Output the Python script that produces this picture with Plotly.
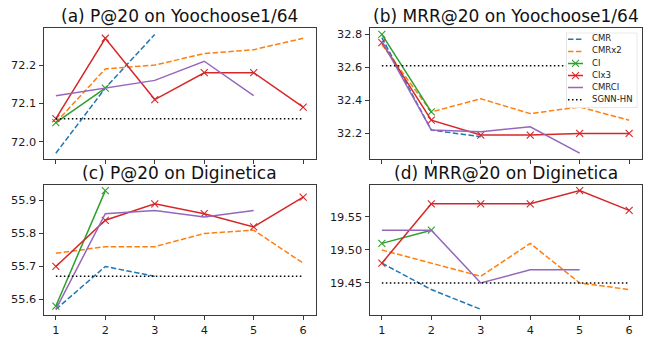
import plotly.graph_objects as go

# ---------------- data ----------------
steps = [1, 2, 3, 4, 5, 6]
names = ["CMR", "CMRx2", "CI", "CIx3", "CMRCI", "SGNN-HN"]

a_cmr = [71.97, 72.14, 72.28]
a_cmrx2 = [72.05, 72.19, 72.20, 72.23, 72.24, 72.27]
a_ci = [72.05, 72.14]
a_cix3 = [72.06, 72.27, 72.11, 72.18, 72.18, 72.09]
a_cmrci = [72.12, 72.14, 72.16, 72.21, 72.12]
a_sgnn = [72.06, 72.06, 72.06, 72.06, 72.06, 72.06]

b_cmr = [32.78, 32.22, 32.18]
b_cmrx2 = [32.74, 32.33, 32.41, 32.32, 32.36, 32.28]
b_ci = [32.80, 32.33]
b_cix3 = [32.75, 32.28, 32.19, 32.19, 32.20, 32.20]
b_cmrci = [32.76, 32.22, 32.21, 32.24, 32.08]
b_sgnn = [32.61, 32.61, 32.61, 32.61, 32.61, 32.61]

c_cmr = [55.57, 55.70, 55.67]
c_cmrx2 = [55.74, 55.76, 55.76, 55.80, 55.81, 55.71]
c_ci = [55.58, 55.93]
c_cix3 = [55.70, 55.84, 55.89, 55.86, 55.82, 55.91]
c_cmrci = [55.57, 55.86, 55.87, 55.85, 55.87]
c_sgnn = [55.67, 55.67, 55.67, 55.67, 55.67, 55.67]

d_cmr = [19.48, 19.44, 19.41]
d_cmrx2 = [19.50, 19.48, 19.46, 19.51, 19.45, 19.44]
d_ci = [19.51, 19.53]
d_cix3 = [19.48, 19.57, 19.57, 19.57, 19.59, 19.56]
d_cmrci = [19.53, 19.53, 19.45, 19.47, 19.47]
d_sgnn = [19.45, 19.45, 19.45, 19.45, 19.45, 19.45]

titles = ["(a) P@20 on Yoochoose1/64", "(b) MRR@20 on Yoochoose1/64",
          "(c) P@20 on Diginetica", "(d) MRR@20 on Diginetica"]
panels = [
    [a_cmr, a_cmrx2, a_ci, a_cix3, a_cmrci, a_sgnn],
    [b_cmr, b_cmrx2, b_ci, b_cix3, b_cmrci, b_sgnn],
    [c_cmr, c_cmrx2, c_ci, c_cix3, c_cmrci, c_sgnn],
    [d_cmr, d_cmrx2, d_ci, d_cix3, d_cmrci, d_sgnn],
]
ydticks = [0.1, 0.2, 0.1, 0.05]
yformats = [".1f", ".1f", ".1f", ".2f"]

# ---------------- styles ----------------
styles = {
    "CMR": dict(color="#1f77b4", dash="5.5px,2.4px", marker=False),
    "CMRx2": dict(color="#ff7f0e", dash="5.5px,2.4px", marker=False),
    "CI": dict(color="#2ca02c", dash="solid", marker=True),
    "CIx3": dict(color="#d62728", dash="solid", marker=True),
    "CMRCI": dict(color="#9467bd", dash="solid", marker=False),
    "SGNN-HN": dict(color="#000000", dash="1.5px,2.5px", marker=False),
}

W, H = 654, 337
FONT = "DejaVu Sans"
left_dom = [43.5 / W, 315.5 / W]
right_dom = [369.5 / W, 641.5 / W]
top_dom = [1 - 162 / H, 1 - 29 / H]
bot_dom = [1 - 321 / H, 1 - 188 / H]
domains = [(left_dom, top_dom), (right_dom, top_dom),
           (left_dom, bot_dom), (right_dom, bot_dom)]

fig = go.Figure()
layout = dict(
    width=W, height=H, margin=dict(l=0, r=0, t=0, b=0),
    paper_bgcolor="white", plot_bgcolor="white", showlegend=False,
    font=dict(family=FONT, size=11, color="#1a1a1a"),
)
annotations = []
shapes = []

for p, series in enumerate(panels):
    k = p + 1
    xn = "x" if k == 1 else f"x{k}"
    yn = "y" if k == 1 else f"y{k}"
    for name, vals in zip(names, series):
        st = styles[name]
        fig.add_trace(go.Scatter(
            x=steps[:len(vals)], y=vals, xaxis=xn, yaxis=yn, name=name,
            mode="lines+markers" if st["marker"] else "lines",
            line=dict(color=st["color"], width=1.5, dash=st["dash"]),
            marker=dict(symbol="x-thin", size=7, line=dict(color=st["color"], width=1.1)),
            cliponaxis=False,
        ))
    allv = [v for s in series for v in s]
    lo, hi = min(allv), max(allv)
    pad = (hi - lo) * 0.05
    xd, yd = domains[p]
    axis_common = dict(showline=True, mirror=True, linecolor="#3a3a3a", linewidth=1,
                       ticks="outside", ticklen=4, tickwidth=1, tickcolor="#3a3a3a",
                       showgrid=False, zeroline=False,
                       tickfont=dict(family=FONT, size=11.3, color="#1a1a1a"))
    layout["xaxis" if k == 1 else f"xaxis{k}"] = dict(
        domain=xd, anchor=yn, range=[0.75, 6.25], tickvals=steps,
        showticklabels=(p >= 2), **axis_common)
    layout["yaxis" if k == 1 else f"yaxis{k}"] = dict(
        domain=yd, anchor=xn, range=[lo - pad, hi + pad], dtick=ydticks[p], tick0=0,
        tickformat=yformats[p], **axis_common)
    annotations.append(dict(
        text=titles[p], xref="paper", yref="paper",
        x=(xd[0] + xd[1]) / 2, y=yd[1], xanchor="center", yanchor="bottom",
        yshift=0, showarrow=False, font=dict(family=FONT, size=17, color="#111111")))

# ---------------- legend (drawn in its own small axes inside panel b) ----------------
leg_x = [566 / W, 637.3 / W]
leg_y = [1 - 110 / H, 1 - 33.3 / H]
for i, name in enumerate(names):
    st = styles[name]
    fig.add_trace(go.Scatter(
        x=[2, 17], y=[i, i], xaxis="x5", yaxis="y5", mode="lines",
        line=dict(color=st["color"], width=1.5, dash=st["dash"]), hoverinfo="skip"))
    if st["marker"]:
        fig.add_trace(go.Scatter(
            x=[9.5], y=[i], xaxis="x5", yaxis="y5", mode="markers",
            marker=dict(symbol="x-thin", size=7, line=dict(color=st["color"], width=1.1)),
            hoverinfo="skip"))
    fig.add_trace(go.Scatter(
        x=[26], y=[i], xaxis="x5", yaxis="y5", mode="text", text=[name],
        textposition="middle right", cliponaxis=False,
        textfont=dict(family=FONT, size=8.5, color="#1a1a1a"), hoverinfo="skip"))

layout["xaxis5"] = dict(domain=leg_x, anchor="y5", range=[0, 71.3], visible=False, fixedrange=True)
layout["yaxis5"] = dict(domain=leg_y, anchor="x5", range=[5.69, -0.545], visible=False, fixedrange=True)
shapes.append(dict(type="rect", xref="x5", yref="y5", x0=0, x1=71.3, y0=-0.545, y1=5.69,
                   fillcolor="rgba(255,255,255,0.8)", line=dict(color="#cccccc", width=1),
                   layer="below"))

layout["annotations"] = annotations
layout["shapes"] = shapes
fig.update_layout(**layout)
fig.write_html("out.html")
